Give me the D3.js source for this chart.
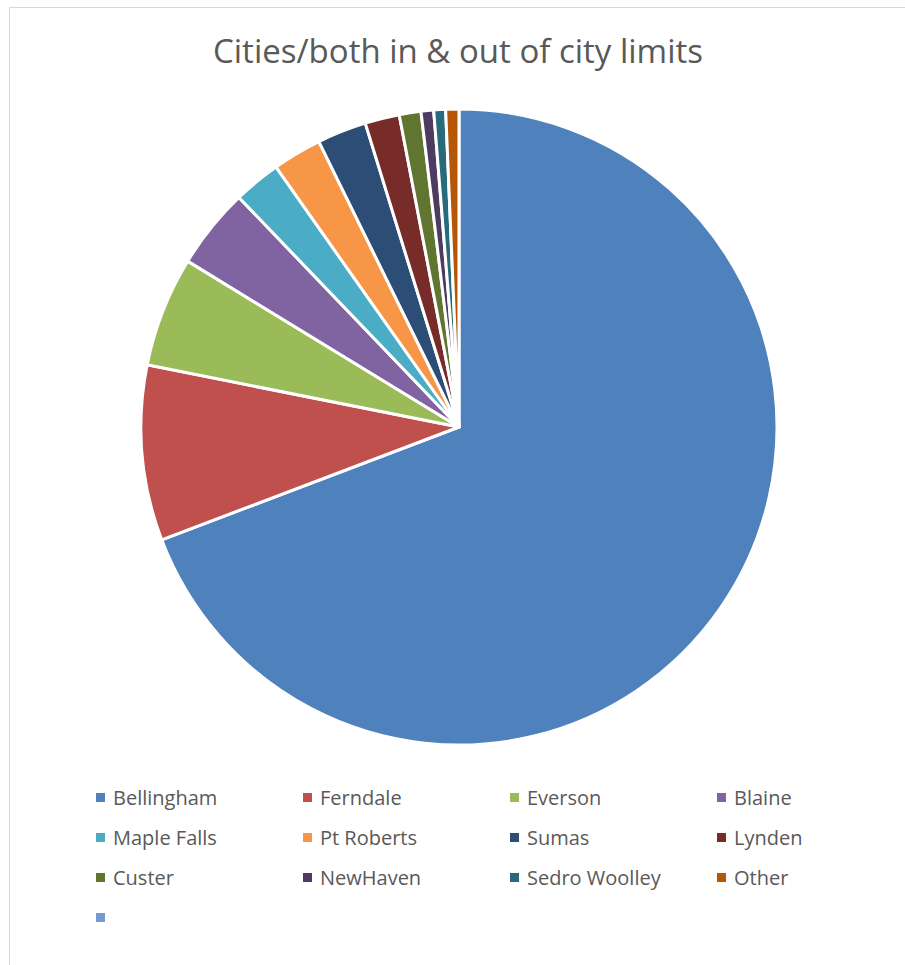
<!DOCTYPE html>
<html>
<head>
<meta charset="utf-8">
<script src="https://cdn.jsdelivr.net/npm/d3@7"></script>
<style>
  html, body { margin: 0; padding: 0; background: #fff; }
  svg { display: block; }
</style>
</head>
<body>
<svg id="chart"></svg>
<script>
'use strict';

var cities = ['Bellingham', 'Ferndale', 'Everson', 'Blaine', 'Maple Falls', 'Pt Roberts',
  'Sumas', 'Lynden', 'Custer', 'NewHaven', 'Sedro Woolley', 'Other', ''];
// share of total, in percent
var shares = [69.2, 8.9, 5.6, 4.1, 2.4, 2.5, 2.5, 1.75, 1.1, 0.64, 0.6, 0.67, 0];
var colors = ['#4F81BD', '#C0504D', '#9BBB59', '#8064A2', '#4BACC6', '#F79646',
  '#2C4D75', '#772C2A', '#5F7530', '#4D3B62', '#276A7C', '#B65708', '#729ACA'];
var title = 'Cities/both in & out of city limits';

var width = 905, height = 965;
var svg = d3.select('#chart').attr('width', width).attr('height', height);

// chart area border (runs off the right and bottom edges)
svg.append('rect')
  .attr('x', 9.5).attr('y', 7.5)
  .attr('width', 920).attr('height', 980)
  .attr('fill', '#fff')
  .attr('stroke', '#D9D9D9')
  .attr('stroke-width', 1);

svg.append('text')
  .attr('x', 458).attr('y', 63)
  .attr('text-anchor', 'middle')
  .attr('font-family', 'Open Sans, sans-serif')
  .attr('font-size', 32)
  .attr('textLength', 490)
  .attr('lengthAdjust', 'spacingAndGlyphs')
  .attr('fill', '#595959')
  .text(title);

var data = cities.map(function(c, i) { return {city: c, value: shares[i], color: colors[i]}; });

var pie = d3.pie().sort(null).value(function(d) { return d.value; });
var arc = d3.arc().innerRadius(0).outerRadius(318);

var g = svg.append('g').attr('transform', 'translate(459,427)');
g.selectAll('path')
  .data(pie(data).filter(function(d) { return d.data.value > 0; }))
  .enter().append('path')
    .attr('d', arc)
    .attr('fill', function(d) { return d.data.color; })
    .attr('stroke', '#fff')
    .attr('stroke-width', 3)
    .attr('stroke-linejoin', 'round');

// legend, 4 per row
var legend = svg.append('g');
var item = legend.selectAll('g.item')
  .data(data)
  .enter().append('g').attr('class', 'item')
    .attr('transform', function(d, i) {
      return 'translate(' + (96 + (i % 4) * 207) + ',' + (798 + Math.floor(i / 4) * 40) + ')';
    });

item.append('rect')
  .attr('x', 0).attr('y', -5)
  .attr('width', 9).attr('height', 9)
  .attr('fill', function(d) { return d.color; });

item.append('text')
  .attr('x', 17).attr('y', 7)
  .attr('font-family', 'Open Sans, sans-serif')
  .attr('font-size', 20)
  .attr('fill', '#595959')
  .text(function(d) { return d.city; });
</script>
</body>
</html>
